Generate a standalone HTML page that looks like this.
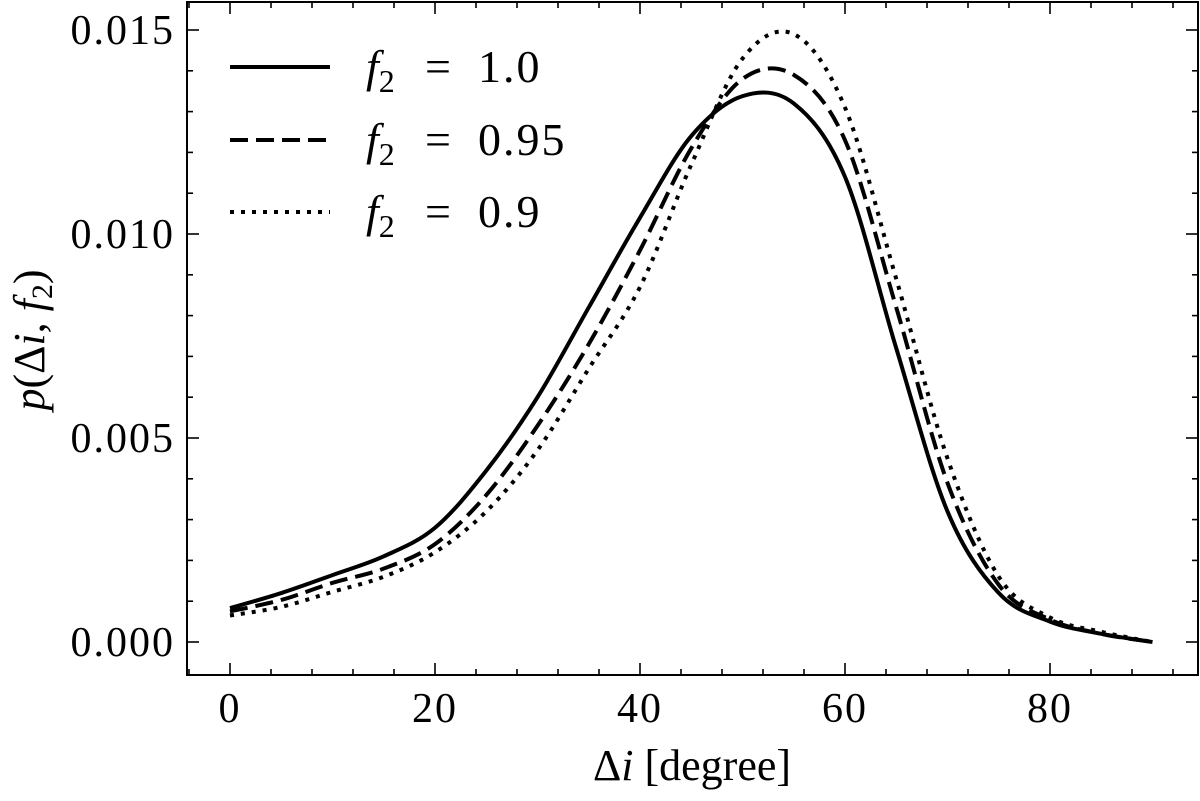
<!DOCTYPE html>
<html><head><meta charset="utf-8"><style>
body{margin:0;background:#fff}
svg text{font-family:"Liberation Serif","DejaVu Serif",serif;fill:#000}
</style></head><body>
<svg id="chart" width="1200" height="796" viewBox="0 0 1200 796" xmlns="http://www.w3.org/2000/svg">
<g id="plot"></g>
</svg>
<script>
const xs = [0,5,10,15,20,25,30,35,40,45,50,55,60,65,70,75,80,85,90];
const s10 = [0.00083,0.0012,0.00164,0.0021,0.0028,0.0042,0.0060,0.0082,0.0104,0.0124,0.01338,0.0132,0.0114,0.0072,0.0032,0.0012,0.0005,0.0002,0.0];
const s095 = [0.00075,0.00103,0.00145,0.0018,0.0024,0.0036,0.0053,0.0073,0.0096,0.0121,0.0138,0.0139,0.0123,0.0082,0.0039,0.0014,0.00055,0.0002,0.0];
const s09 = [0.00065,0.00086,0.00123,0.0016,0.0022,0.0032,0.0047,0.0067,0.0087,0.0117,0.0143,0.0149,0.0131,0.0089,0.0045,0.0016,0.0006,0.00025,0.0];
const xTicks = [0,20,40,60,80];
const yTicks = [0.000,0.005,0.010,0.015];
const yTickLabels = ["0.000","0.005","0.010","0.015"];
const seriesNames = ["f2=1.0","f2=0.95","f2=0.9"];
const legendLabels = ["1.0","0.95","0.9"];

const L=187,R=1198,T=2,B=675;
const X=v=>230+v*(1050-230)/80;
const Y=v=>642-v*(642-30)/0.015;
const NS="http://www.w3.org/2000/svg";
const g=document.getElementById('plot');
function mk(t,a){const e=document.createElementNS(NS,t);for(const k in a)e.setAttribute(k,a[k]);g.appendChild(e);return e;}
function path(vals){
  const p=xs.map((x,i)=>[X(x),Y(vals[i])]);
  let d=`M${p[0][0]},${p[0][1]}`;
  for(let i=0;i<p.length-1;i++){
    const p0=p[Math.max(0,i-1)],p1=p[i],p2=p[i+1],p3=p[Math.min(p.length-1,i+2)];
    const c1=[p1[0]+(p2[0]-p0[0])/6,p1[1]+(p2[1]-p0[1])/6];
    const c2=[p2[0]-(p3[0]-p1[0])/6,p2[1]-(p3[1]-p1[1])/6];
    d+=` C${c1[0]},${c1[1]} ${c2[0]},${c2[1]} ${p2[0]},${p2[1]}`;
  }
  return d;
}
const dashes=["none","18,8","4,7"];
[s10,s095,s09].forEach((s,i)=>{
  const e=mk('path',{d:path(s),fill:'none',stroke:'#000','stroke-width':4,'stroke-dasharray':dashes[i]});
  
  
});
const fr=mk('rect',{x:L,y:T,width:R-L,height:B-T,fill:'none',stroke:'#000','stroke-width':2});


for(let v=-4;v<=96;v+=4){
  const x=X(v); if(x<=L||x>=R) continue;
  const len=(v%20===0)?12:6;
  mk('line',{x1:x,y1:B,x2:x,y2:B-len,stroke:'#000','stroke-width':1.6});
  mk('line',{x1:x,y1:T,x2:x,y2:T+len,stroke:'#000','stroke-width':1.6});
}
xTicks.forEach(v=>{
  const t=mk('text',{x:X(v),y:722,'font-size':42,'text-anchor':'middle','letter-spacing':2});t.textContent=v;
  
  
});
for(let k=-1;k<=16;k++){
  const v=k*0.001,y=Y(v); if(y<=T||y>=B) continue;
  const len=(k%5===0)?12:6;
  mk('line',{x1:L,y1:y,x2:L+len,y2:y,stroke:'#000','stroke-width':1.6});
  mk('line',{x1:R,y1:y,x2:R-len,y2:y,stroke:'#000','stroke-width':1.6});
}
yTicks.forEach((v,i)=>{
  const t=mk('text',{x:175,y:Y(v)+14,'font-size':42,'text-anchor':'end','letter-spacing':2});t.textContent=yTickLabels[i];
  
  
});
const xt=mk('text',{x:692,y:780,'font-size':44,'text-anchor':'middle'});
xt.innerHTML='Δ<tspan font-style="italic">i</tspan> [degree]';


const yt=mk('text',{x:0,y:0,'font-size':44,'text-anchor':'middle',transform:'translate(44,340) rotate(-90)'});
yt.innerHTML='<tspan font-style="italic">p</tspan>(Δ<tspan font-style="italic">i</tspan>, <tspan font-style="italic">f</tspan><tspan font-size="30" dy="8">2</tspan><tspan dy="-8">)</tspan>';


[67,140,212].forEach((y,i)=>{
  const l=mk('line',{x1:230,y1:y,x2:330,y2:y,stroke:'#000','stroke-width':4,'stroke-dasharray':dashes[i]});
  
  
  const t=mk('text',{x:366,y:y+15,'font-size':46});
  t.innerHTML='<tspan font-style="italic">f</tspan><tspan font-size="32" dy="10">2</tspan><tspan dy="-10" x="425">=</tspan><tspan x="478" letter-spacing="2">'+legendLabels[i]+'</tspan>';
  
  
});
</script>
</body></html>
